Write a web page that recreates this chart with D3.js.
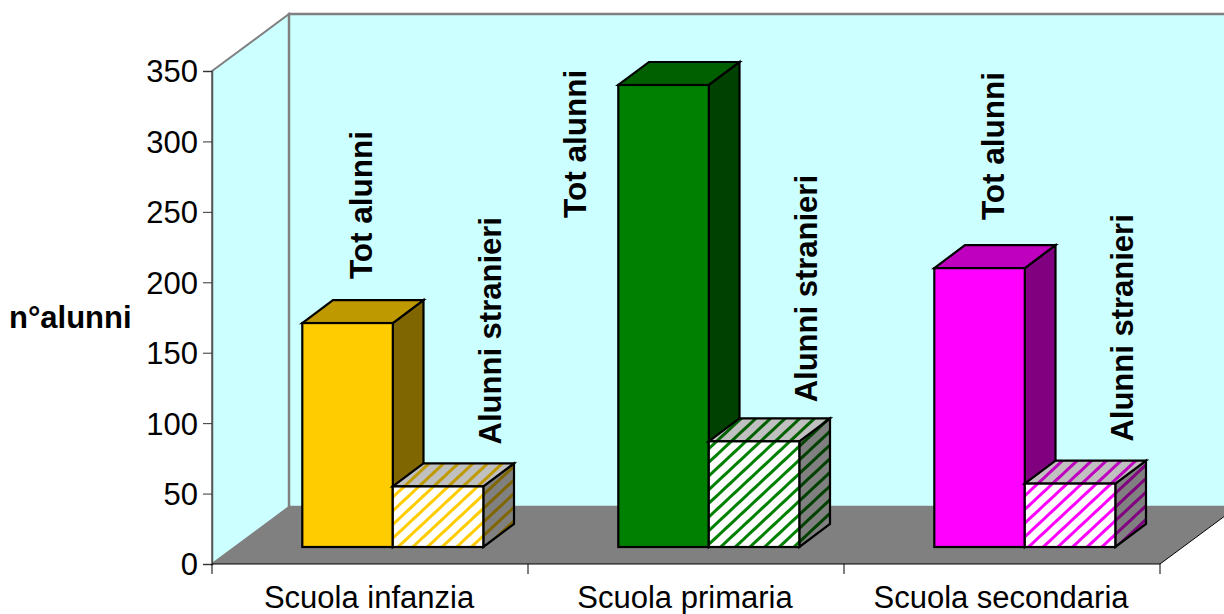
<!DOCTYPE html>
<html>
<head>
<meta charset="utf-8">
<script src="https://cdnjs.cloudflare.com/ajax/libs/d3/7.8.5/d3.min.js"></script>
<style>
html,body{margin:0;padding:0;background:#fff;}
svg{display:block;}
text{font-family:"Liberation Sans",Arial,sans-serif;fill:#000;}
</style>
</head>
<body>
<div id="chart"></div>
<script>
var categories=["Scuola infanzia","Scuola primaria","Scuola secondaria"];
var seriesNames=["Tot alunni","Alunni stranieri"];
var totAlunni=[159,328,198];
var alunniStranieri=[43,75,45];
var yTicks=[0,50,100,150,200,250,300,350];
var faceColors=["#ffcc00","#008000","#ff00ff"];
var topColors=["#bf9900","#006000","#bf00bf"];
var sideColors=["#806600","#004000","#800080"];

var ww=1224,hh=614;
var x0=212,x1=1160,yBase=564,yTop=71;
var wallDx=77,wallDy=-57;     // depth of the floor
var barDx=30.7,barDy=-23;     // depth of a bar
var frontDx=0,frontDy=-17;    // bars stand this far in front of the axis plane

var x=d3.scaleBand().domain(categories).range([x0,x1]);
var xs=d3.scaleBand().domain(seriesNames).range([90.3,271.3]);
var y=d3.scaleLinear().domain([0,350]).range([yBase,yTop]);

var svg=d3.select("#chart").append("svg").attr("width",ww).attr("height",hh);
var defs=svg.append("defs");

function hatch(id,bg,fg){
  var p=defs.append("pattern").attr("id",id)
    .attr("patternUnits","userSpaceOnUse")
    .attr("width",10).attr("height",10)
    .attr("patternTransform","rotate(-43)");
  p.append("rect").attr("width",10).attr("height",10).attr("fill",bg);
  p.append("rect").attr("width",10).attr("height",3).attr("fill",fg);
}
categories.forEach(function(c,i){
  hatch("hf"+i,"#ffffff",faceColors[i]);
  hatch("ht"+i,"#c0c0c0",topColors[i]);
  hatch("hs"+i,"#808080",sideColors[i]);
});

function pts(a){return a.map(function(d){return d.join(",");}).join(" ");}

// walls and floor
svg.append("polygon")
  .attr("points",pts([[x0,yTop],[x0+wallDx,yTop+wallDy],[x0+wallDx,yBase+wallDy],[x0,yBase]]))
  .attr("fill","#ccffff").attr("stroke","#808080").attr("stroke-width",2);
svg.append("polygon")
  .attr("points",pts([[x0+wallDx,yTop+wallDy],[x1+wallDx,yTop+wallDy],[x1+wallDx,yBase+wallDy],[x0+wallDx,yBase+wallDy]]))
  .attr("fill","#ccffff").attr("stroke","#808080").attr("stroke-width",2.5);
svg.append("polygon")
  .attr("points",pts([[x0,yBase],[x0+wallDx,yBase+wallDy],[x1+wallDx,yBase+wallDy],[x1,yBase]]))
  .attr("fill","#808080");
svg.append("line").attr("x1",x1).attr("y1",yBase).attr("x2",x1+wallDx).attr("y2",yBase+wallDy)
  .attr("stroke","#000").attr("stroke-width",1);

// bars
var seriesValues=[totAlunni,alunniStranieri];
categories.forEach(function(c,i){
  seriesValues.forEach(function(vals,s){
    var name=seriesNames[s];
    var l=x(c)+xs(name)+frontDx, r=l+xs.bandwidth();
    var b=y(0)+frontDy, t=y(vals[i])+frontDy;
    var g=svg.append("g").attr("class","bar")
      .attr("stroke","#000").attr("stroke-width",2.2).attr("stroke-linejoin","miter");
    g.append("polygon")
      .attr("points",pts([[r,t],[r+barDx,t+barDy],[r+barDx,b+barDy],[r,b]]))
      .attr("fill",s?"url(#hs"+i+")":sideColors[i]);
    g.append("polygon")
      .attr("points",pts([[l,t],[l+barDx,t+barDy],[r+barDx,t+barDy],[r,t]]))
      .attr("fill",s?"url(#ht"+i+")":topColors[i]);
    g.append("rect").attr("x",l).attr("y",t).attr("width",r-l).attr("height",b-t)
      .attr("fill",s?"url(#hf"+i+")":faceColors[i]);
  });
});

// rotated bar labels, sitting above the back edge of each bar
var lblDx=[13.5,52],lblGap=[21,19],lblSize=[31.5,31];
categories.forEach(function(c,i){
  seriesValues.forEach(function(vals,s){
    var name=seriesNames[s];
    var cx=x(c)+xs(name)+frontDx+xs.bandwidth()/2+lblDx[s];
    var by=y(vals[i])+frontDy+barDy-lblGap[s];
    if(s==0 && i==1){cx-=102;by=218;}   // tall bar: label moved to its left
    if(s==0 && i==2){by-=4;}
    if(s==1 && i==1){by+=3;}
    svg.append("text")
      .attr("transform","translate("+cx+","+by+") rotate(-90)")
      .attr("dy",".35em")
      .attr("font-size",lblSize[s]).attr("font-weight","bold")
      .text(name);
  });
});

// y axis
var yAxis=d3.axisLeft(y).tickValues(yTicks).tickSize(9).tickPadding(5).tickFormat(d3.format("d"));
var ya=svg.append("g").attr("transform","translate("+x0+",0)").call(yAxis);
ya.selectAll("text").attr("font-size",31).attr("font-family",null).attr("y",1);
ya.selectAll("line").attr("stroke","#333");
ya.select(".domain").attr("stroke","#555").attr("stroke-width",1.5);

// x axis: ticks mark the band edges, labels sit in the middle
var xa=svg.append("g");
xa.append("line").attr("x1",x0).attr("x2",x1).attr("y1",yBase).attr("y2",yBase).attr("stroke","#000");
xa.selectAll("line.tick").data(categories.concat([null])).enter().append("line")
  .attr("class","tick")
  .attr("x1",function(d){return d===null?x1:x(d);})
  .attr("x2",function(d){return d===null?x1:x(d);})
  .attr("y1",yBase).attr("y2",yBase+10).attr("stroke","#000");
xa.selectAll("text").data(categories).enter().append("text")
  .attr("x",function(d){return x(d)+x.bandwidth()/2-1;})
  .attr("y",607.5).attr("text-anchor","middle").attr("font-size",31)
  .text(function(d){return d;});

svg.append("text").attr("x",9).attr("y",328)
  .attr("font-size",31).attr("font-weight","bold").text("n°alunni");
</script>
</body>
</html>
